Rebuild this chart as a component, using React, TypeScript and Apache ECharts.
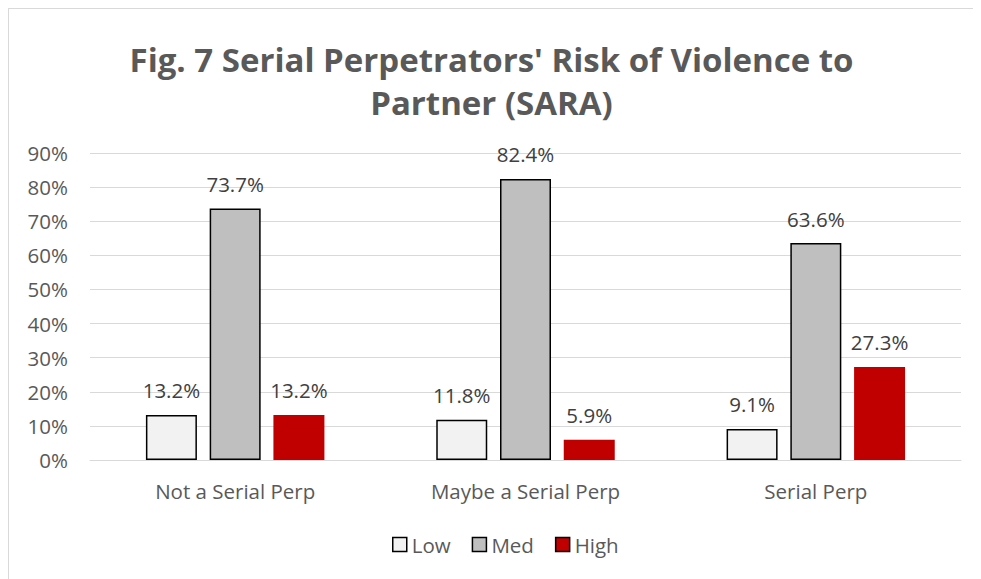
import React, { useEffect, useRef } from "react";
import * as echarts from "echarts";

const categories = ["Not a Serial Perp", "Maybe a Serial Perp", "Serial Perp"];
const lowValues = [13.2, 11.8, 9.1];
const medValues = [73.7, 82.4, 63.6];
const highValues = [13.2, 5.9, 27.3];
const seriesNames = ["Low", "Med", "High"];
const titleText = "Fig. 7 Serial Perpetrators' Risk of Violence to\nPartner (SARA)";

export default function App() {
  const ref = useRef<HTMLDivElement>(null);
  useEffect(() => {
    if (!ref.current) return;
    const chart = echarts.init(ref.current, null, { renderer: "svg" });
    const font = "'Open Sans', sans-serif";
    const label = {
      show: true,
      position: "top" as const,
      distance: 14,
      color: "#404040",
      fontSize: 20.5,
      fontFamily: font,
      formatter: (p: any) => p.value.toFixed(1) + "%",
    };
    chart.setOption({
      animation: false,
      backgroundColor: "#ffffff",
      title: {
        text: titleText,
        left: "center",
        top: 24,
        textStyle: {
          color: "#595959",
          fontSize: 33,
          fontWeight: "bold",
          fontFamily: font,
          lineHeight: 43,
        },
      },
      legend: {
        bottom: 19,
        left: 378,
        icon: "rect",
        itemWidth: 14,
        itemHeight: 14,
        itemGap: 21,
        itemStyle: { borderColor: "#000000", borderWidth: 1.5 },
        textStyle: { color: "#595959", fontSize: 20.5, fontFamily: font },
        data: seriesNames,
      },
      grid: { left: 81, right: 13, top: 144, bottom: 119 },
      xAxis: {
        type: "category",
        data: categories,
        axisLine: { lineStyle: { color: "#d9d9d9", width: 1 } },
        axisTick: { show: false },
        axisLabel: { color: "#595959", fontSize: 20.5, fontFamily: font, margin: 20 },
      },
      yAxis: {
        type: "value",
        min: 0,
        max: 90,
        interval: 10,
        axisLine: { show: false },
        axisTick: { show: false },
        splitLine: { lineStyle: { color: "#d9d9d9", width: 1 } },
        axisLabel: {
          color: "#595959",
          fontSize: 20.5,
          fontFamily: font,
          margin: 22,
          formatter: (v: number) => v + "%",
        },
      },
      series: [
        {
          name: seriesNames[0],
          type: "bar",
          data: lowValues,
          barWidth: 51,
          barGap: "25%",
          itemStyle: { color: "#f2f2f2", borderColor: "#000000", borderWidth: 1.5 },
          label,
        },
        {
          name: seriesNames[1],
          type: "bar",
          data: medValues,
          barWidth: 51,
          barGap: "25%",
          itemStyle: { color: "#bfbfbf", borderColor: "#000000", borderWidth: 1.5 },
          label,
        },
        {
          name: seriesNames[2],
          type: "bar",
          data: highValues,
          barWidth: 51,
          barGap: "25%",
          itemStyle: { color: "#c00000", borderWidth: 0 },
          label,
        },
      ],
    });
    return () => chart.dispose();
  }, []);
  return (
    <div
      ref={ref}
      style={{
        width: 967,
        height: 572,
        border: "1px solid #d9d9d9",
        boxSizing: "border-box",
      }}
    />
  );
}
